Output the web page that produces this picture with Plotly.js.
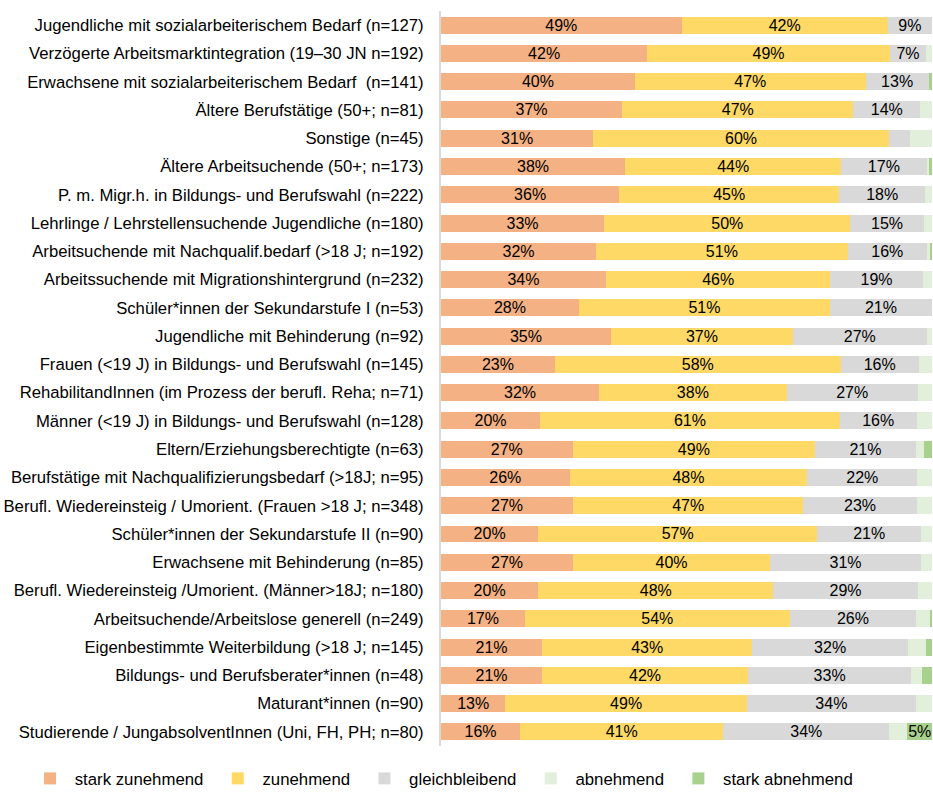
<!DOCTYPE html>
<html>
<head>
<meta charset="utf-8">
<script src="https://cdn.plot.ly/plotly-3.0.1.min.js"></script>
<style>html,body{margin:0;padding:0;background:#fff;}#chart{width:933px;height:798px;}</style>
</head>
<body>
<div id="chart"></div>
<script>
const categories = [
  "Jugendliche mit sozialarbeiterischem Bedarf (n=127)",
  "Verzögerte Arbeitsmarktintegration (19–30 JN n=192)",
  "Erwachsene mit sozialarbeiterischem Bedarf  (n=141)",
  "Ältere Berufstätige (50+; n=81)",
  "Sonstige (n=45)",
  "Ältere Arbeitsuchende (50+; n=173)",
  "P. m. Migr.h. in Bildungs- und Berufswahl (n=222)",
  "Lehrlinge / Lehrstellensuchende Jugendliche (n=180)",
  "Arbeitsuchende mit Nachqualif.bedarf (>18 J; n=192)",
  "Arbeitssuchende mit Migrationshintergrund (n=232)",
  "Schüler*innen der Sekundarstufe I (n=53)",
  "Jugendliche mit Behinderung (n=92)",
  "Frauen (<19 J) in Bildungs- und Berufswahl (n=145)",
  "RehabilitandInnen (im Prozess der berufl. Reha; n=71)",
  "Männer (<19 J) in Bildungs- und Berufswahl (n=128)",
  "Eltern/Erziehungsberechtigte (n=63)",
  "Berufstätige mit Nachqualifizierungsbedarf (>18J; n=95)",
  "Berufl. Wiedereinsteig / Umorient. (Frauen >18 J; n=348)",
  "Schüler*innen der Sekundarstufe II (n=90)",
  "Erwachsene mit Behinderung (n=85)",
  "Berufl. Wiedereinsteig /Umorient. (Männer>18J; n=180)",
  "Arbeitsuchende/Arbeitslose generell (n=249)",
  "Eigenbestimmte Weiterbildung (>18 J; n=145)",
  "Bildungs- und Berufsberater*innen (n=48)",
  "Maturant*innen (n=90)",
  "Studierende / JungabsolventInnen (Uni, FH, PH; n=80)"
];

const starkZunehmend = [49, 42.0, 39.5, 36.9, 31.0, 37.5, 36.3, 33.2, 31.6, 33.6, 28.1, 34.6, 23.2, 32.2, 20.2, 26.8, 26.2, 26.9, 19.8, 26.9, 19.8, 17.1, 20.6, 20.6, 13.1, 16.1];
const zunehmend      = [42, 49.4, 47.0, 47.1, 60.2, 44.0, 44.8, 50.2, 51.2, 45.7, 51.1, 37.1, 58.2, 38.2, 61.0, 49.4, 48.4, 46.9, 56.8, 40.1, 47.9, 53.9, 42.8, 41.9, 49.2, 41.4];
const gleichbleibend = [9, 7.4, 12.8, 13.6, 4.3, 17.4, 17.5, 14.9, 16.2, 18.8, 20.8, 27.2, 15.9, 26.7, 15.7, 20.5, 22.4, 23.1, 21.2, 30.8, 29.4, 25.8, 31.7, 33.3, 34.4, 33.8];
const abnehmend      = [0, 1.2, 0, 2.4, 4.5, 0.4, 1.4, 1.7, 0.6, 1.9, 0, 1.1, 2.7, 2.9, 3.1, 1.7, 3.0, 3.1, 2.2, 2.2, 2.9, 2.7, 3.6, 2.2, 3.3, 3.7];
const starkAbnehmend = [0, 0, 0.7, 0, 0, 0.7, 0, 0, 0.4, 0, 0, 0, 0, 0, 0, 1.6, 0, 0, 0, 0, 0, 0.5, 1.3, 2.0, 0, 5.0];

const seriesNames = ["stark zunehmend", "zunehmend", "gleichbleibend", "abnehmend", "stark abnehmend"];
const seriesValues = [starkZunehmend, zunehmend, gleichbleibend, abnehmend, starkAbnehmend];
const seriesColors = ["#F4B183", "#FFD966", "#D9D9D9", "#E2EFDA", "#A9D18E"];

const FONT = "'Liberation Sans', Arial, sans-serif";
const NB = "\u00a0";

const traces = seriesValues.map((vals, i) => ({
  type: "bar",
  orientation: "h",
  name: NB + seriesNames[i] + (i < seriesNames.length - 1 ? NB + NB : ""),
  y: categories,
  x: vals,
  marker: { color: seriesColors[i], line: { width: 0 } },
  text: vals.map(v => v >= 5 ? Math.round(v) + "%" : ""),
  textposition: "inside",
  insidetextanchor: "middle",
  textfont: { family: FONT, size: 16, color: "#000" },
  constraintext: "none",
  hoverinfo: "skip",
  cliponaxis: false
}));

const layout = {
  width: 933,
  height: 798,
  margin: { l: 441, r: 1, t: 11, b: 52, pad: 0 },
  paper_bgcolor: "#fff",
  plot_bgcolor: "#fff",
  barmode: "stack",
  bargap: 0.4,
  showlegend: true,
  hovermode: false,
  font: { family: FONT, size: 16, color: "#000" },
  uniformtext: { mode: "show", minsize: 16 },
  xaxis: {
    range: [0, 100],
    showgrid: false,
    zeroline: false,
    showticklabels: false,
    showline: false,
    ticks: "",
    fixedrange: true
  },
  yaxis: {
    type: "category",
    categoryorder: "array",
    categoryarray: categories,
    autorange: "reversed",
    showgrid: false,
    zeroline: false,
    showline: true,
    linecolor: "#D9D9D9",
    linewidth: 2,
    ticks: "",
    ticklabelstandoff: 12,
    tickfont: { family: FONT, size: 16.7, color: "#000" },
    fixedrange: true
  },
  legend: {
    orientation: "h",
    x: -0.837,
    xanchor: "left",
    y: -0.068,
    yanchor: "bottom",
    traceorder: "normal",
    font: { family: FONT, size: 16.8, color: "#000" },
    itemwidth: 30,
    bgcolor: "rgba(0,0,0,0)"
  }
};

Plotly.newPlot("chart", traces, layout, { displayModeBar: false, staticPlot: true });
</script>
</body>
</html>
